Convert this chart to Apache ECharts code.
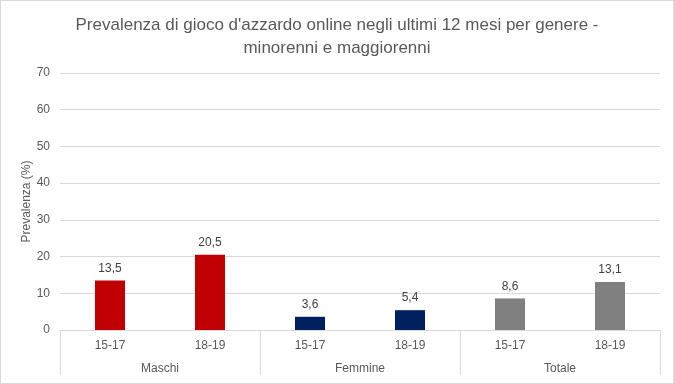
<!DOCTYPE html>
<html>
<head>
<meta charset="utf-8">
<script src="https://cdn.jsdelivr.net/npm/echarts@6/dist/echarts.min.js"></script>
<style>
html,body{margin:0;padding:0;background:#fff;}
#c{width:674px;height:384px;box-sizing:border-box;border:1px solid #d9d9d9;}
</style>
</head>
<body>
<div id="c"></div>
<script>
const ageLabels = ['15-17', '18-19', '15-17', '18-19', '15-17', '18-19'];
const groups = ['Maschi', 'Femmine', 'Totale'];
const values = [13.5, 20.5, 3.6, 5.4, 8.6, 13.1];
const groupColors = ['#C00000', '#002060', '#808080'];
const yTicks = {min: 0, max: 70, interval: 10};

const font = "'Liberation Sans', sans-serif";
const chart = echarts.init(document.getElementById('c'));
chart.setOption({
  animation: false,
  title: {
    text: "Prevalenza di gioco d'azzardo online negli ultimi 12 mesi per genere -\nminorenni e maggiorenni",
    left: 'center', top: 8,
    textStyle: {fontFamily: font, fontSize: 17, fontWeight: 'normal', color: '#595959', lineHeight: 23}
  },
  grid: {left: 59, right: 13, top: 72, bottom: 53},
  xAxis: [
    {
      type: 'category', data: ageLabels, position: 'bottom',
      axisLine: {show: true, lineStyle: {color: '#d9d9d9'}},
      axisTick: {show: false},
      axisLabel: {color: '#595959', fontFamily: font, fontSize: 12, margin: 10}
    },
    {
      type: 'category', data: groups, position: 'bottom',
      axisLine: {show: false},
      axisTick: {show: true, length: 45, alignWithLabel: false, lineStyle: {color: '#d9d9d9'}},
      axisLabel: {color: '#595959', fontFamily: font, fontSize: 12, margin: 33}
    }
  ],
  yAxis: {
    type: 'value', min: yTicks.min, max: yTicks.max, interval: yTicks.interval,
    name: 'Prevalenza (%)', nameLocation: 'middle', nameGap: 27, nameRotate: 90,
    nameMoveOverlap: false,
    nameTextStyle: {color: '#595959', fontFamily: font, fontSize: 12},
    axisLine: {show: false}, axisTick: {show: false},
    axisLabel: {color: '#595959', fontFamily: font, fontSize: 12, margin: 10},
    splitLine: {lineStyle: {color: '#d9d9d9'}}
  },
  series: [{
    type: 'bar', xAxisIndex: 0, barWidth: 30,
    data: values.map((v, i) => ({value: v, itemStyle: {color: groupColors[Math.floor(i / 2)]}})),
    label: {
      show: true, position: 'top', distance: 6, color: '#404040', fontFamily: font, fontSize: 12,
      formatter: p => String(p.value).replace('.', ',')
    }
  }]
});
</script>
</body>
</html>
